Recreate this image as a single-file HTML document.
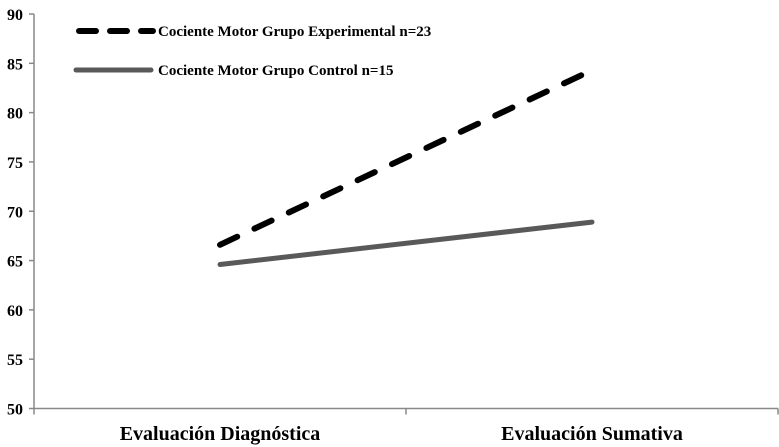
<!DOCTYPE html>
<html><head><meta charset="utf-8"><style>
html,body{margin:0;padding:0;background:#fff;}
svg{display:block;}
text{font-family:"Liberation Serif","Times New Roman",serif;font-weight:bold;fill:#000;}
</style></head><body>
<svg id="chart" width="779" height="447" viewBox="0 0 779 447"></svg>
<script>
const categories=["Evaluación Diagnóstica","Evaluación Sumativa"];
const experimental=[66.6,84.3];
const control=[64.6,68.9];
const yTicks=[50,55,60,65,70,75,80,85,90];
const seriesNames=["Cociente Motor Grupo Experimental n=23","Cociente Motor Grupo Control n=15"];
const svg=document.getElementById('chart');
const NS='http://www.w3.org/2000/svg';
const x0=34,x1=778,yb=408.5,yt=14;
function yScale(v){return yb-(v-50)/(90-50)*(yb-yt);}
function xScale(i){return x0+(i+0.5)*(x1-x0)/categories.length;}
function mk(t,a){const e=document.createElementNS(NS,t);for(const k in a)e.setAttribute(k,a[k]);if(t==='text'){e.setAttribute('font-family','Liberation Serif, serif');e.setAttribute('font-weight','bold');}svg.appendChild(e);return e;}
let e=mk('line',{x1:x0,y1:yt,x2:x0,y2:yb,stroke:'#888','stroke-width':1.5});


e=mk('line',{x1:x0,y1:yb,x2:x1,y2:yb,stroke:'#888','stroke-width':1.5});


yTicks.forEach(v=>{
  const y=yScale(v);
  let t=mk('line',{x1:x0-5,y1:y,x2:x0,y2:y,stroke:'#888','stroke-width':1.5});
  
  
  let l=mk('text',{x:23,y:y+6,'text-anchor':'end','font-size':16});
  l.textContent=v;
  
  
});
for(let i=0;i<=categories.length;i++){
  const x=x0+i*(x1-x0)/categories.length;
  let t=mk('line',{x1:x,y1:yb,x2:x,y2:yb+6,stroke:'#888','stroke-width':1.5});
  
  
}
categories.forEach((c,i)=>{
  let l=mk('text',{x:xScale(i),y:440,'text-anchor':'middle','font-size':20});
  l.textContent=c;
  
  
});
function pts(arr){return arr.map((v,i)=>xScale(i)+','+yScale(v)).join(' ');}
e=mk('polyline',{points:pts(control),fill:'none',stroke:'#595959','stroke-width':5,'stroke-linecap':'round'});


e=mk('polyline',{points:pts(experimental),fill:'none',stroke:'#000','stroke-width':6,'stroke-dasharray':'19 19','stroke-linecap':'round'});


e=mk('line',{x1:79,y1:31,x2:153,y2:31,stroke:'#000','stroke-width':6,'stroke-dasharray':'17 14','stroke-linecap':'round'});


e=mk('text',{x:158,y:36,'font-size':15});
e.textContent=seriesNames[0];


e=mk('line',{x1:76,y1:70,x2:151,y2:70,stroke:'#595959','stroke-width':5,'stroke-linecap':'round'});


e=mk('text',{x:158,y:75,'font-size':15});
e.textContent=seriesNames[1];


</script>
</body></html>
